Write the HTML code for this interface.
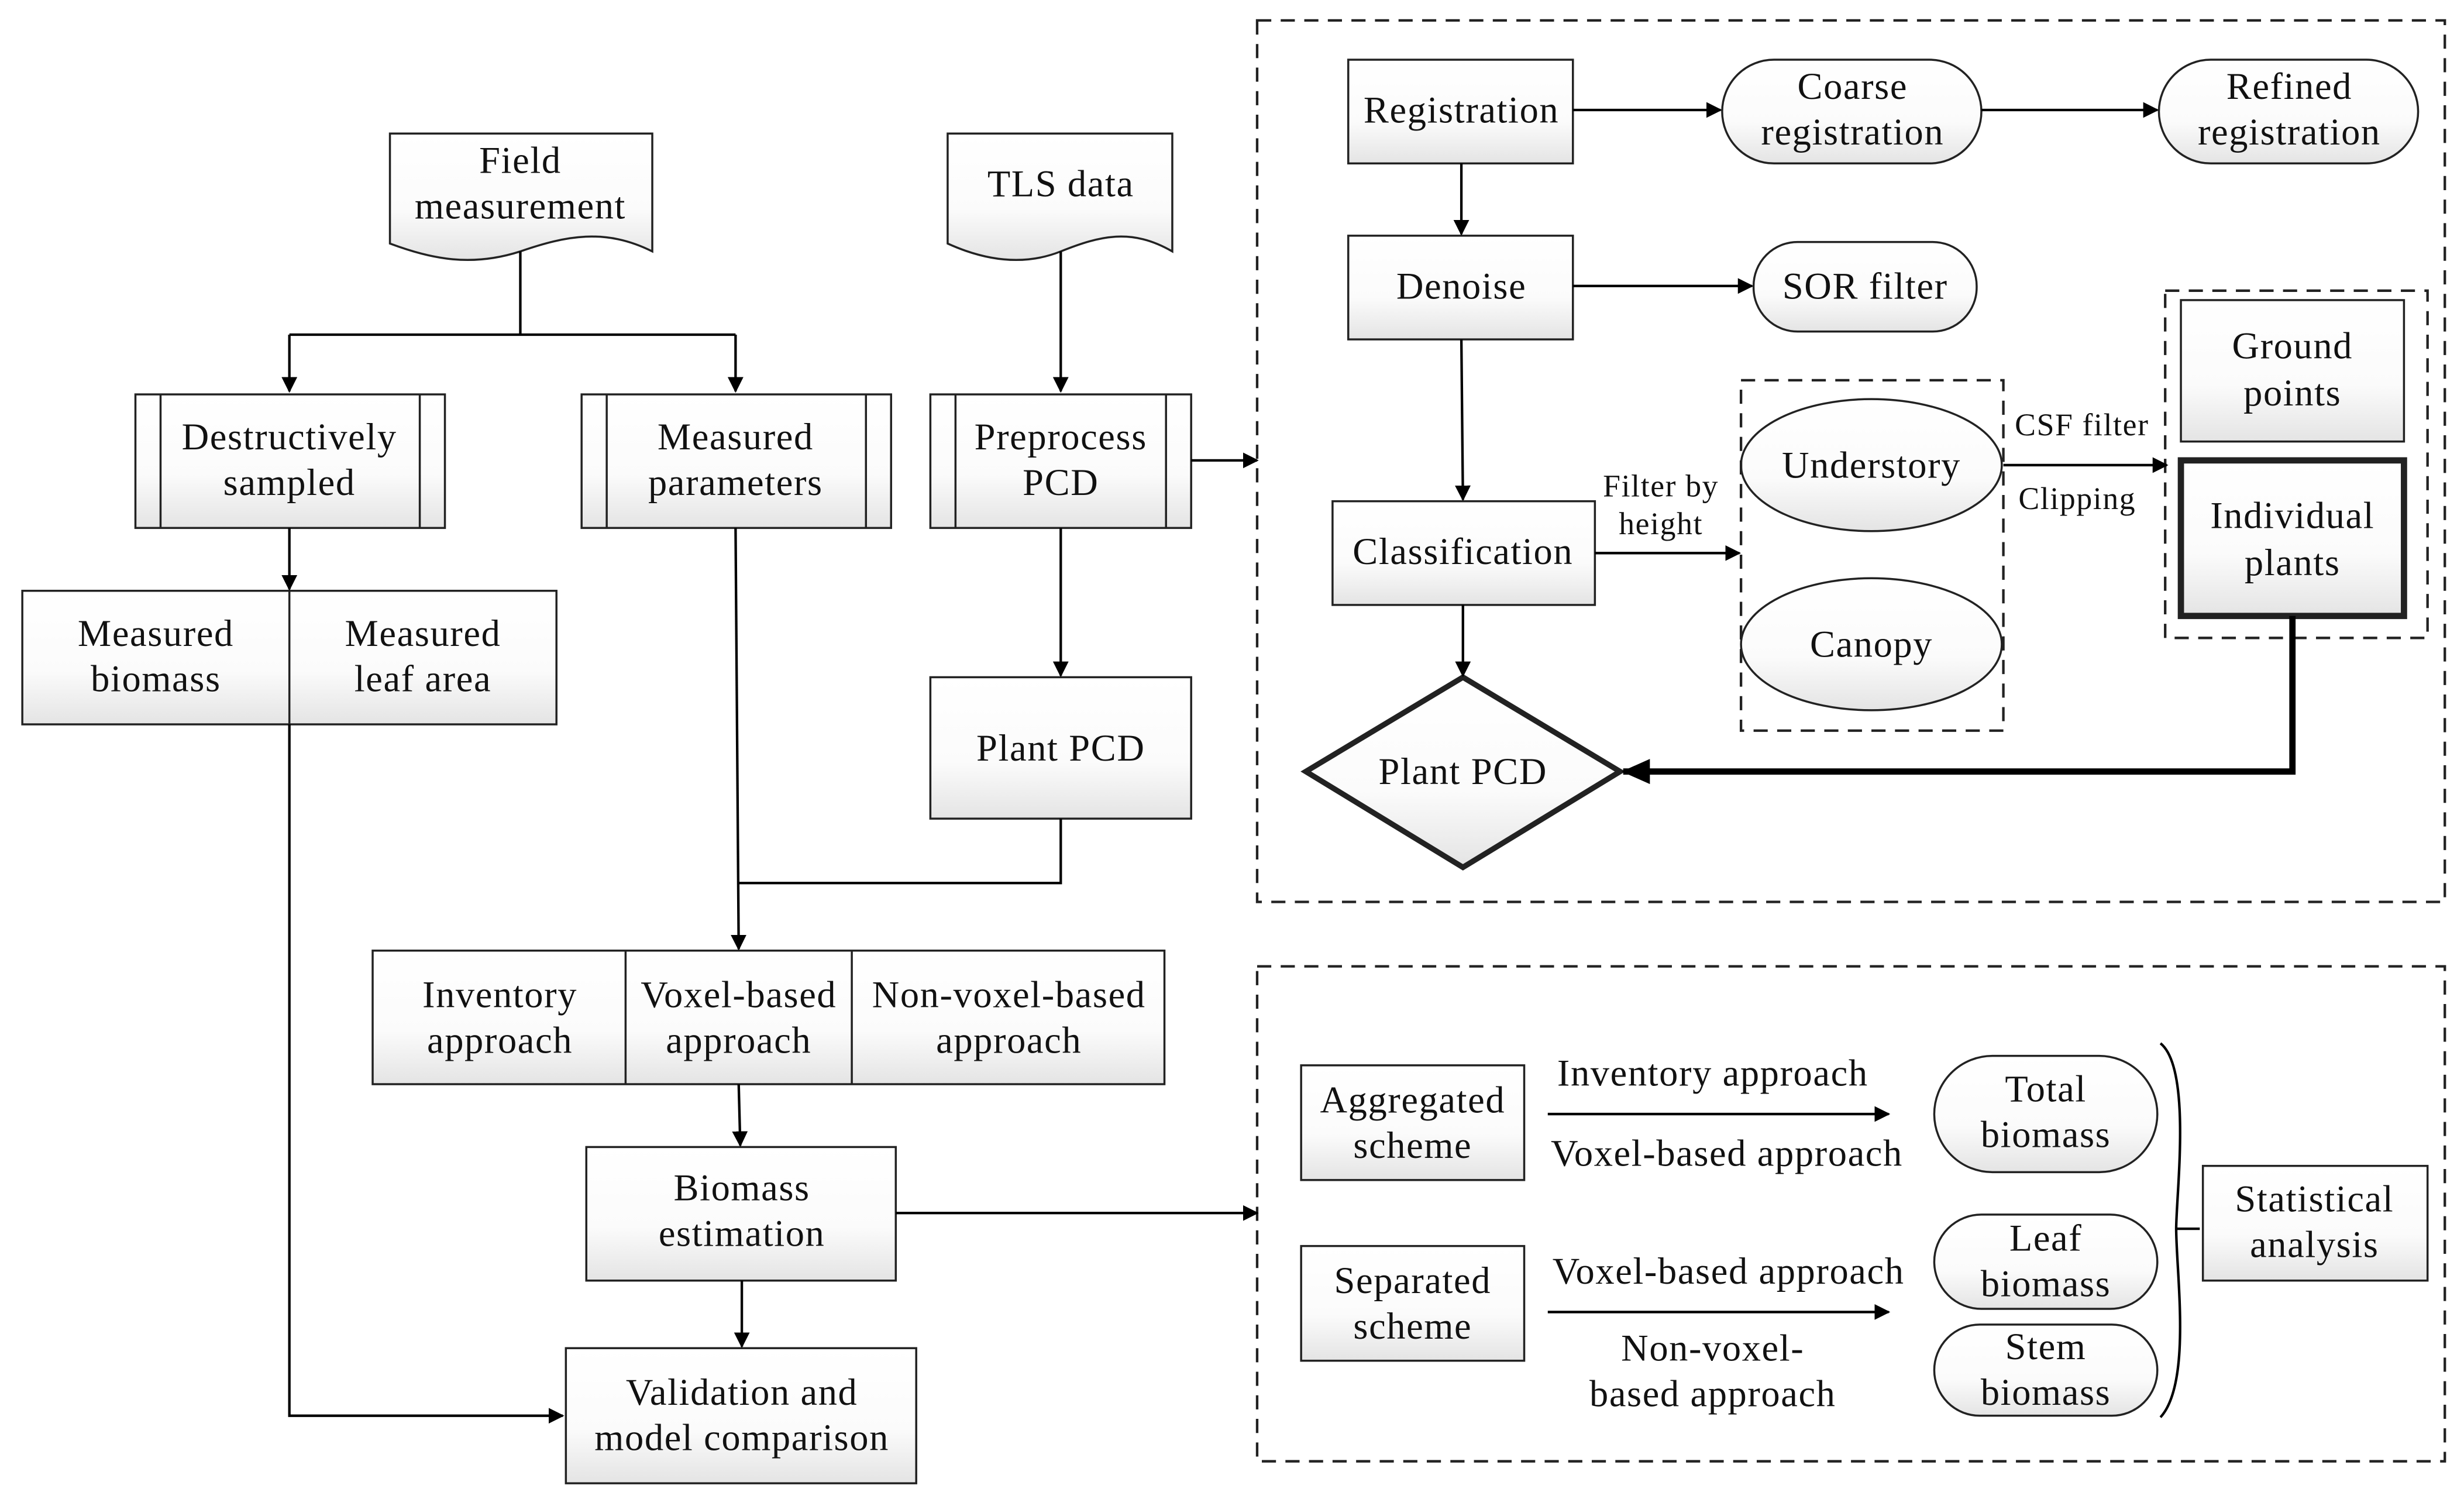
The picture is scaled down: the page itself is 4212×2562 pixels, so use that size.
<!DOCTYPE html>
<html><head><meta charset="utf-8"><style>
html,body{margin:0;padding:0;background:#fff;}
svg{display:block;}
text{font-family:"Liberation Serif",serif;font-size:24px;letter-spacing:0.6px;fill:#111;text-anchor:middle;}
</style></head><body>
<svg width="4212" height="2562" viewBox="0 0 1568 954" xmlns="http://www.w3.org/2000/svg">
<defs>
<linearGradient id="g" x1="0" y1="0" x2="0" y2="1"><stop offset="0" stop-color="#fff"/><stop offset="0.6" stop-color="#fbfbfb"/><stop offset="1" stop-color="#e4e4e4"/></linearGradient>
<marker id="a" markerWidth="10" markerHeight="10" refX="9" refY="5" orient="auto" markerUnits="userSpaceOnUse"><path d="M0,0 L10,5 L0,10 z" fill="#000"/></marker>
<marker id="b" markerWidth="18" markerHeight="16" refX="17" refY="8" orient="auto" markerUnits="userSpaceOnUse"><path d="M0,0 L18,8 L0,16 z" fill="#000"/></marker>
</defs>
<g stroke="#222" stroke-width="1.3" fill="url(#g)">
<path d="M248,85 H415 V160 C385,145 360,150 331,160 C300,170 275,165 248,155 Z"/>
<path d="M603,85 H746 V160 C720,145 700,150 675,160 C650,170 625,165 603,155 Z"/>
<rect x="86" y="251" width="197" height="85"/><line x1="102" y1="251" x2="102" y2="336"/><line x1="267" y1="251" x2="267" y2="336"/>
<rect x="370" y="251" width="197" height="85"/><line x1="386" y1="251" x2="386" y2="336"/><line x1="551" y1="251" x2="551" y2="336"/>
<rect x="592" y="251" width="166" height="85"/><line x1="608" y1="251" x2="608" y2="336"/><line x1="742" y1="251" x2="742" y2="336"/>
<rect x="14" y="376" width="340" height="85"/><line x1="184" y1="376" x2="184" y2="461"/>
<rect x="592" y="431" width="166" height="90"/>
<rect x="237" y="605" width="504" height="85"/><line x1="398" y1="605" x2="398" y2="690"/><line x1="542" y1="605" x2="542" y2="690"/>
<rect x="373" y="730" width="197" height="85"/>
<rect x="360" y="858" width="223" height="86"/>
<rect x="858" y="38" width="143" height="66"/>
<rect x="1096" y="38" width="165" height="66" rx="33"/>
<rect x="1374" y="38" width="165" height="66" rx="33"/>
<rect x="858" y="150" width="143" height="66"/>
<rect x="1116" y="154" width="142" height="57" rx="28"/>
<rect x="848" y="319" width="167" height="66"/>
<ellipse cx="1191" cy="296" rx="83" ry="42"/>
<ellipse cx="1191" cy="410" rx="83" ry="42"/>
<rect x="1388" y="191" width="142" height="90"/>
<rect x="1388" y="293" width="142" height="99" stroke-width="4"/>
<path d="M931,431 L1031,491 L931,552 L831,491 Z" stroke-width="3.5"/>
<rect x="828" y="678" width="142" height="73"/>
<rect x="828" y="793" width="142" height="73"/>
<rect x="1231" y="672" width="142" height="74" rx="37"/>
<rect x="1231" y="773" width="142" height="60" rx="30"/>
<rect x="1231" y="843" width="142" height="58" rx="29"/>
<rect x="1402" y="742" width="143" height="73"/>
</g>
<g fill="none" stroke="#222" stroke-width="1.6" stroke-dasharray="9,6">
<rect x="800" y="13" width="756" height="561"/>
<rect x="800" y="615" width="756" height="315"/>
<rect x="1108" y="242" width="167" height="223"/>
<rect x="1378" y="185" width="167" height="221"/>
</g>
<g fill="none" stroke="#000" stroke-width="1.6">
<polyline points="331,160 331,213"/>
<polyline points="184,213 468,213"/>
<line x1="184" y1="213" x2="184" y2="249" marker-end="url(#a)"/>
<line x1="468" y1="213" x2="468" y2="249" marker-end="url(#a)"/>
<line x1="675" y1="160" x2="675" y2="249" marker-end="url(#a)"/>
<line x1="758" y1="293" x2="800" y2="293" marker-end="url(#a)"/>
<line x1="184" y1="336" x2="184" y2="375" marker-end="url(#a)"/>
<polyline points="184,461 184,901 358,901" marker-end="url(#a)"/>
<line x1="468" y1="336" x2="470" y2="604" marker-end="url(#a)"/>
<line x1="675" y1="336" x2="675" y2="430" marker-end="url(#a)"/>
<polyline points="675,521 675,562 470,562"/>
<line x1="470" y1="690" x2="471" y2="729" marker-end="url(#a)"/>
<line x1="472" y1="815" x2="472" y2="857" marker-end="url(#a)"/>
<line x1="570" y1="772" x2="800" y2="772" marker-end="url(#a)"/>
<line x1="1001" y1="70" x2="1095" y2="70" marker-end="url(#a)"/>
<line x1="1261" y1="70" x2="1373" y2="70" marker-end="url(#a)"/>
<line x1="930" y1="104" x2="930" y2="149" marker-end="url(#a)"/>
<line x1="1001" y1="182" x2="1115" y2="182" marker-end="url(#a)"/>
<line x1="930" y1="216" x2="931" y2="318" marker-end="url(#a)"/>
<line x1="1015" y1="352" x2="1107" y2="352" marker-end="url(#a)"/>
<line x1="1275" y1="296" x2="1379" y2="296" marker-end="url(#a)"/>
<line x1="931" y1="385" x2="931" y2="430" marker-end="url(#a)"/>
<line x1="985" y1="709" x2="1202" y2="709" marker-end="url(#a)"/>
<line x1="985" y1="835" x2="1202" y2="835" marker-end="url(#a)"/>
<path d="M1375,664 C1395,680 1385,760 1385,782 C1385,810 1395,880 1375,902"/>
<line x1="1385" y1="782" x2="1400" y2="782"/>
</g>
<polyline points="1459,392 1459,491 1033,491" fill="none" stroke="#000" stroke-width="4" marker-end="url(#b)"/>
<text x="331" y="110">Field</text><text x="331" y="139">measurement</text>
<text x="675" y="125">TLS  data</text>
<text x="184" y="286">Destructively</text><text x="184" y="315">sampled</text>
<text x="468" y="286">Measured</text><text x="468" y="315">parameters</text>
<text x="675" y="286">Preprocess</text><text x="675" y="315">PCD</text>
<text x="99" y="411">Measured</text><text x="99" y="440">biomass</text>
<text x="269" y="411">Measured</text><text x="269" y="440">leaf area</text>
<text x="675" y="484">Plant PCD</text>
<text x="318" y="641">Inventory</text><text x="318" y="670">approach</text>
<text x="470" y="641">Voxel-based</text><text x="470" y="670">approach</text>
<text x="642" y="641">Non-voxel-based</text><text x="642" y="670">approach</text>
<text x="472" y="764">Biomass</text><text x="472" y="793">estimation</text>
<text x="472" y="894">Validation and</text><text x="472" y="923">model comparison</text>
<text x="930" y="78">Registration</text>
<text x="1179" y="63">Coarse</text><text x="1179" y="92">registration</text>
<text x="1457" y="63">Refined</text><text x="1457" y="92">registration</text>
<text x="930" y="190">Denoise</text>
<text x="1187" y="190">SOR filter</text>
<text x="931" y="359">Classification</text>
<text x="1057" y="316" style="font-size:20px">Filter by</text><text x="1057" y="340" style="font-size:20px">height</text>
<text x="1191" y="304">Understory</text>
<text x="1191" y="418">Canopy</text>
<text x="1325" y="277" style="font-size:20px">CSF filter</text>
<text x="1322" y="324" style="font-size:20px">Clipping</text>
<text x="1459" y="228">Ground</text><text x="1459" y="258">points</text>
<text x="1459" y="336">Individual</text><text x="1459" y="366">plants</text>
<text x="931" y="499">Plant PCD</text>
<text x="899" y="708">Aggregated</text><text x="899" y="737">scheme</text>
<text x="899" y="823">Separated</text><text x="899" y="852">scheme</text>
<text x="1090" y="691">Inventory approach</text>
<text x="1099" y="742">Voxel-based approach</text>
<text x="1100" y="817">Voxel-based approach</text>
<text x="1090" y="866">Non-voxel-</text><text x="1090" y="895">based approach</text>
<text x="1302" y="701">Total</text><text x="1302" y="730">biomass</text>
<text x="1302" y="796">Leaf</text><text x="1302" y="825">biomass</text>
<text x="1302" y="865">Stem</text><text x="1302" y="894">biomass</text>
<text x="1473" y="771">Statistical</text><text x="1473" y="800">analysis</text>
</svg>
</body></html>
